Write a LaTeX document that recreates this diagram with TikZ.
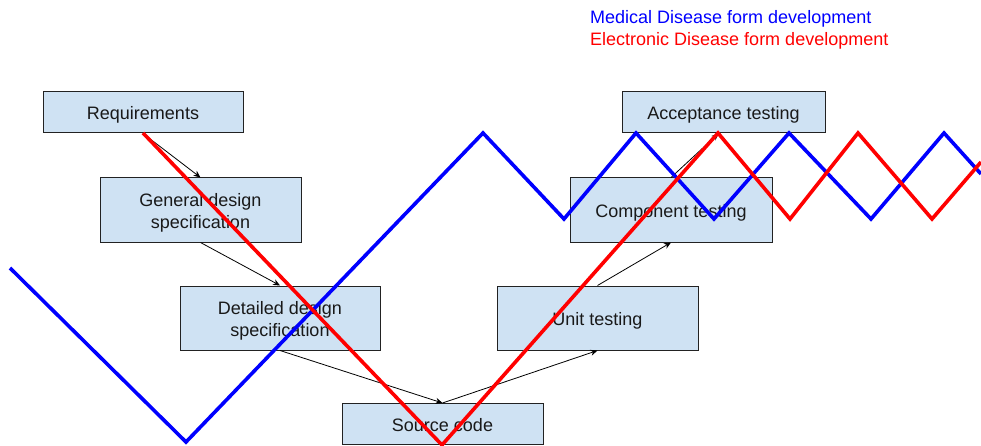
\documentclass[tikz,border=0pt]{standalone}
\usepackage{fontspec}
\setmainfont{Liberation Sans}
\usetikzlibrary{arrows.meta}
\definecolor{boxfill}{HTML}{CFE2F3}
\definecolor{boxline}{HTML}{222222}
\newcommand{\boxtxt}[1]{\raisebox{-7pt}[0pt][0pt]{\begin{tabular}{@{}c@{}}#1\end{tabular}}}
\tikzset{
  stagebox/.style={draw=boxline, line width=1pt, fill=boxfill, inner sep=0pt,
    align=center, font=\fontsize{18}{22}\selectfont, text=black!90},
  flowarrow/.style={draw=black, line width=0.8pt, -{Stealth[length=7pt,width=6pt]}},
  medline/.style={draw={rgb,255:red,0;green,0;blue,255}, line width=3.6pt},
  eleline/.style={draw={rgb,255:red,255;green,0;blue,0}, line width=3.6pt},
  legend/.style={anchor=west, inner sep=0pt, font=\fontsize{18}{22}\selectfont}
}
\begin{document}
\begin{tikzpicture}[x=1pt,y=-1pt]
\useasboundingbox (0,0) rectangle (981,446);
\node[stagebox, minimum width=200pt, minimum height=41pt] (req) at (143,112.5) {\boxtxt{Requirements}};
\node[stagebox, minimum width=201pt, minimum height=64pt] (gen) at (200.5,210) {\boxtxt{General design\\specification}};
\node[stagebox, minimum width=200pt, minimum height=64pt] (det) at (280,318) {\boxtxt{Detailed design\\specification}};
\node[stagebox, minimum width=201pt, minimum height=41pt] (src) at (442.5,424) {\boxtxt{Source code}};
\node[stagebox, minimum width=201pt, minimum height=64pt] (unit) at (597.5,318) {\boxtxt{Unit testing}};
\node[stagebox, minimum width=202pt, minimum height=64pt] (comp) at (671,210) {\boxtxt{Component testing}};
\node[stagebox, minimum width=203pt, minimum height=41pt] (acc) at (723.5,112.5) {\boxtxt{Acceptance testing}};

\draw[flowarrow] (req.south) -- (gen.north);
\draw[flowarrow] (gen.south) -- (det.north);
\draw[flowarrow] (det.south) -- (src.north);
\draw[flowarrow] (src.north) -- (unit.south);
\draw[flowarrow] (unit.north) -- (comp.south);
\draw[flowarrow] (comp.north) -- ([xshift=-5pt]acc.south);

\draw[medline] (10,268) -- (186,442) -- (483,133) -- (564,219) -- (636,133) -- (714,219)
  -- (789,133) -- (871,219) -- (944,133) -- (981,174);
\draw[eleline] (143,133) -- (442,445) -- (718,133) -- (790,219) -- (858,133) -- (932,219)
  -- (981,162);

\node[legend, text={rgb,255:red,0;green,0;blue,255}] (leg1) at (590,19) {Medical Disease form development};
\node[legend, text={rgb,255:red,255;green,0;blue,0}] (leg2) at (590,41) {Electronic Disease form development};
\end{tikzpicture}
\end{document}
